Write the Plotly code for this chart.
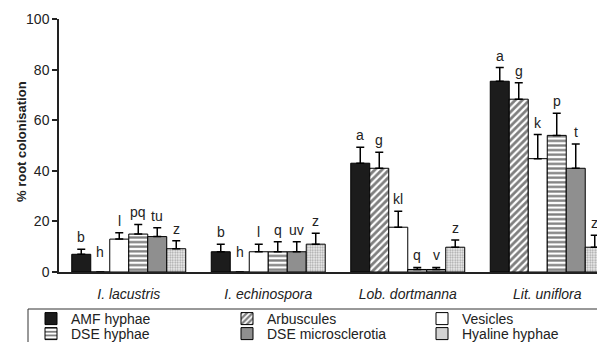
import plotly.graph_objects as go

species = ["I. lacustris", "I. echinospora", "Lob. dortmanna", "Lit. uniflora"]

amf_hyphae = [7, 8, 43, 75.4]
amf_hyphae_err = [2, 3, 6.3, 5.4]
arbuscules = [0, 0, 41, 68.3]
arbuscules_err = [0, 0, 6.3, 6.5]
vesicles = [13, 8, 17.7, 44.8]
vesicles_err = [2.5, 3, 6.3, 9.5]
dse_hyphae = [15, 8, 1, 54]
dse_hyphae_err = [3.8, 4, 0.8, 8.7]
dse_micro = [14, 8, 1, 41]
dse_micro_err = [3.5, 4, 0.8, 9.6]
hyaline = [9.2, 11, 9.8, 9.8]
hyaline_err = [3.2, 4.3, 2.8, 4.7]

letters_amf = ["b", "b", "a", "a"]
letters_arb = ["h", "h", "g", "g"]
letters_ves = ["l", "l", "kl", "k"]
letters_dseh = ["pq", "q", "q", "p"]
letters_dsem = ["tu", "uv", "v", "t"]
letters_hya = ["z", "z", "z", "z"]

series = [
    ("AMF hyphae", amf_hyphae, amf_hyphae_err, letters_amf,
     dict(color="#1c1c1c")),
    ("Arbuscules", arbuscules, arbuscules_err, letters_arb,
     dict(color="white", pattern=dict(shape="/", fgcolor="black", bgcolor="white", size=5, solidity=0.55))),
    ("Vesicles", vesicles, vesicles_err, letters_ves,
     dict(color="white")),
    ("DSE hyphae", dse_hyphae, dse_hyphae_err, letters_dseh,
     dict(color="white", pattern=dict(shape="-", fgcolor="black", bgcolor="white", size=4.6, solidity=0.5))),
    ("DSE microsclerotia", dse_micro, dse_micro_err, letters_dsem,
     dict(color="#8f8f8f")),
    ("Hyaline hyphae", hyaline, hyaline_err, letters_hya,
     dict(color="white", pattern=dict(shape=".", fgcolor="#555555", bgcolor="#f2f2f2", size=2.5, solidity=0.45))),
]

BARGAP = 0.183
FONT = "Arial, Liberation Sans, sans-serif"
W, H = 605, 342
# page body has an 8px margin: figure coordinates = window coordinates - 8
ML, MT, MR, MB = 51, 11, 8, 78
PW, PH = W - ML - MR, H - MT - MB

# legend layout: 3 columns x 2 rows (figure pixel positions)
legend_cols = [23, 219, 414]
legend_rows = [311, 326]

fig = go.Figure()
annotations = []
legends = {}
n = len(series)
w = (1 - BARGAP) / n
for j, (name, vals, errs, letters, mk) in enumerate(series):
    marker = dict(mk)
    marker["line"] = dict(color="black", width=1)
    lg = "legend" if j == 0 else "legend%d" % (j + 1)
    legends[lg] = dict(
        orientation="h", xref="container", yref="container",
        xanchor="left", yanchor="middle",
        x=legend_cols[j % 3] / W, y=1 - legend_rows[j // 3] / H,
        borderwidth=0, bgcolor="rgba(0,0,0,0)",
        font=dict(family=FONT, size=14, color="#222"),
        itemwidth=30,
    )
    fig.add_trace(go.Bar(
        name=name, x=species, y=vals, marker=marker, legend=lg,
        error_y=dict(type="data", symmetric=False, array=errs,
                     arrayminus=[0] * len(errs), color="black",
                     thickness=1.5, width=4),
    ))
    for i, (v, e, lab) in enumerate(zip(vals, errs, letters)):
        top = v + e
        shift = 2
        if top <= 0:
            shift = 10
        annotations.append(dict(
            x=i + (j - (n - 1) / 2) * w, y=top, xref="x", yref="y",
            text=lab, showarrow=False, yanchor="bottom", yshift=shift,
            font=dict(family=FONT, size=14, color="#222"),
        ))

# y-axis title
annotations.append(dict(
    text="<b>% root colonisation</b>", textangle=-90, showarrow=False,
    xref="paper", yref="paper", x=(13 - ML) / PW, y=(H - MB - 134) / PH,
    xanchor="center", yanchor="middle",
    font=dict(family=FONT, size=13, color="#222"),
))

fig.update_layout(
    width=W, height=H,
    margin=dict(l=ML, r=MR, t=MT, b=MB, autoexpand=False),
    paper_bgcolor="white", plot_bgcolor="white",
    barmode="group", bargap=BARGAP, bargroupgap=0,
    font=dict(family=FONT, size=13, color="#222"),
    annotations=annotations,
    showlegend=True,
    shapes=[dict(type="rect", xref="paper", yref="paper",
                 x0=(20 - ML) / PW, x1=(W + 20 - ML) / PW,
                 y0=-(H + 20 - (H - MB)) / PH, y1=-(301 - (H - MB)) / PH,
                 line=dict(color="#333", width=1), fillcolor="rgba(0,0,0,0)")],
    **legends,
)
fig.update_xaxes(
    range=[-0.5, 3.414], showline=True, linecolor="#222", linewidth=1.5,
    ticks="outside", ticklen=8, tickcolor="rgba(0,0,0,0)",
    tickfont=dict(family=FONT, size=14, color="#222"),
    showgrid=False, zeroline=False,
    tickvals=species, ticktext=["<i>%s</i>" % s for s in species],
)
fig.update_yaxes(
    range=[0, 100], tickvals=[0, 20, 40, 60, 80, 100],
    showline=True, linecolor="#222", linewidth=1.5,
    ticks="outside", ticklen=5, tickwidth=1.5, tickcolor="#222",
    tickfont=dict(family=FONT, size=14, color="#222"),
    showgrid=False, zeroline=False,
)

fig.write_html("out.html")
